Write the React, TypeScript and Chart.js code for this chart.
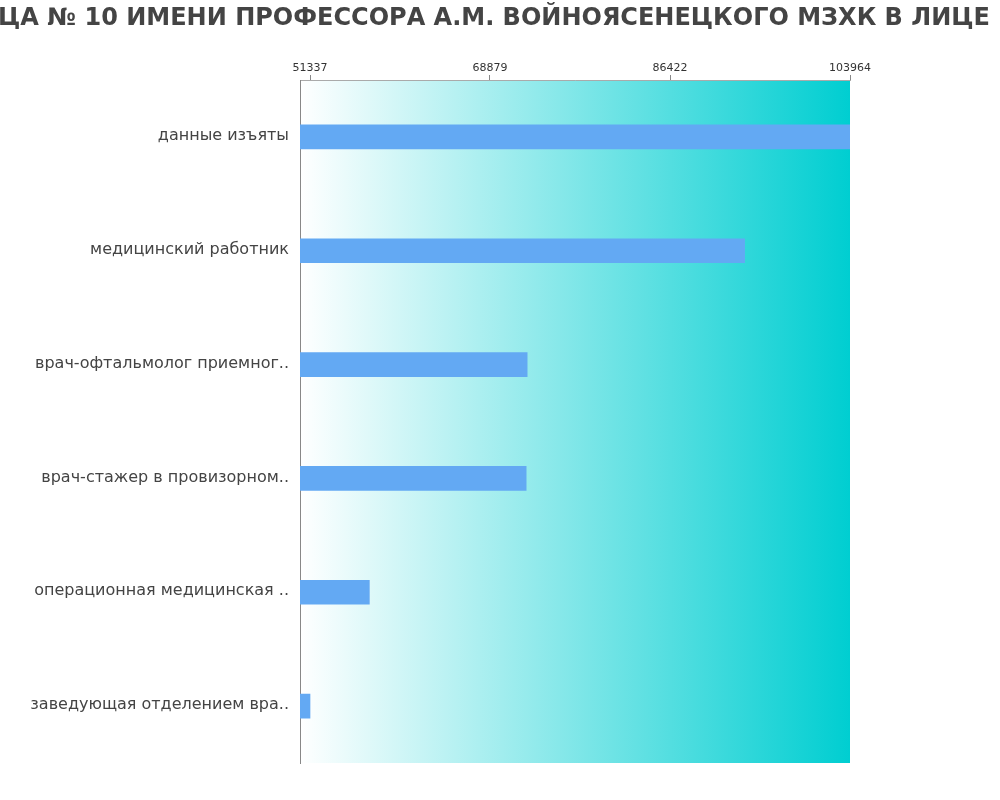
import React, { useEffect, useRef } from 'react';
import { Chart, registerables } from 'chart.js';

Chart.register(...registerables);

const TITLE = 'ЦА № 10 ИМЕНИ ПРОФЕССОРА А.М. ВОЙНОЯСЕНЕЦКОГО МЗХК В ЛИЦЕ';

const categories = [
  'данные изъяты',
  'медицинский работник',
  'врач-офтальмолог приемног..',
  'врач-стажер в провизорном..',
  'операционная медицинская ..',
  'заведующая отделением вра..',
];

const salaries = [103964, 93695, 72501, 72403, 57121, 51337];

const tickValues = [51337, 68879, 86422, 103964];
const axisMin = 50362;
const axisMax = 103964;

const FONT = "'DejaVu Sans', sans-serif";

const bgPlugin = {
  id: 'bgGradient',
  beforeDraw(chart: any) {
    const { ctx, chartArea } = chart;
    if (!chartArea) return;
    const g = ctx.createLinearGradient(chartArea.left, 0, chartArea.right, 0);
    g.addColorStop(0, '#ffffff');
    g.addColorStop(1, '#00ced1');
    ctx.save();
    ctx.fillStyle = g;
    ctx.fillRect(chartArea.left, chartArea.top, chartArea.right - chartArea.left, chartArea.bottom - chartArea.top);
    ctx.restore();
  },
};

const titlePlugin = {
  id: 'wideTitle',
  afterDraw(chart: any) {
    const { ctx } = chart;
    ctx.save();
    ctx.font = `bold 24px ${FONT}`;
    ctx.fillStyle = '#444444';
    ctx.textAlign = 'center';
    ctx.textBaseline = 'middle';
    ctx.fillText(TITLE, chart.width / 2 - 6, 19);
    ctx.restore();
  },
};

export default function App() {
  const ref = useRef<HTMLCanvasElement | null>(null);

  useEffect(() => {
    document.body.style.margin = '0';
    if (!ref.current) return;
    const chart = new Chart(ref.current, {
      type: 'bar',
      data: {
        labels: categories,
        datasets: [
          {
            data: salaries,
            backgroundColor: '#63a9f3',
            borderWidth: 0,
            barThickness: 24,
          },
        ],
      },
      plugins: [bgPlugin, titlePlugin],
      options: {
        indexAxis: 'y',
        animation: false,
        responsive: false,
        devicePixelRatio: 1,
        layout: { padding: { top: 0, left: 0, right: 150, bottom: 37 } },
        plugins: {
          legend: { display: false },
          title: { display: false },
          tooltip: { enabled: false },
        },
        scales: {
          x: {
            position: 'top',
            min: axisMin,
            max: axisMax,
            afterBuildTicks: (scale: any) => {
              scale.ticks = tickValues.map((v) => ({ value: v }));
            },
            afterFit: (scale: any) => {
              scale.height = 80;
            },
            grid: {
              display: true,
              drawOnChartArea: false,
              drawTicks: true,
              tickLength: 5,
              color: '#888888',
            },
            border: { display: true, color: '#aaaaaa' },
            ticks: {
              color: '#333333',
              font: { family: FONT, size: 11 },
              padding: 0,
              maxRotation: 0,
              autoSkip: false,
              callback: (v: any) => String(v),
            },
          },
          y: {
            afterFit: (scale: any) => {
              scale.width = 300;
            },
            grid: { display: false, drawTicks: false },
            border: { display: true, color: '#888888' },
            ticks: {
              color: '#444444',
              font: { family: FONT, size: 16 },
              padding: 11,
              labelOffset: -1,
            },
          },
        },
      },
    });
    return () => chart.destroy();
  }, []);

  return (
    <div style={{ width: 1000, height: 800 }}>
      <canvas ref={ref} width={1000} height={800} style={{ display: 'block' }} />
    </div>
  );
}
